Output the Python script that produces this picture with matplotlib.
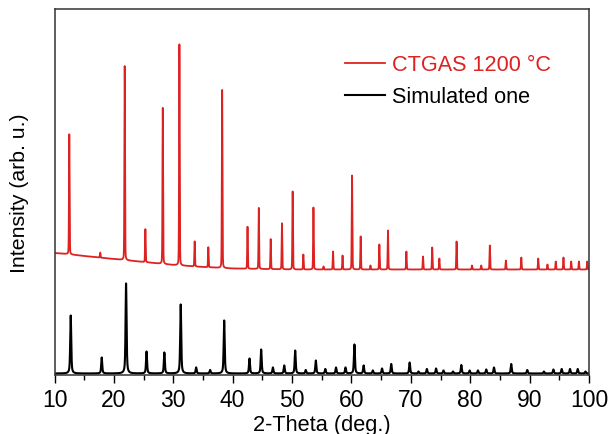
import numpy as np
import matplotlib
matplotlib.use("Agg")
import matplotlib.pyplot as plt
from matplotlib.ticker import MultipleLocator

plt.rcParams["font.family"] = ["Liberation Sans", "DejaVu Sans"]

# peak lists (2-theta in deg., height in arb. units)
red_pos = [12.49, 17.7, 21.82, 25.3, 28.23, 31.03, 33.6, 35.9, 38.23, 42.5,
           44.4, 46.4, 48.3, 50.1, 51.9, 53.6, 55.3, 56.9, 58.5, 60.1,
           61.55, 63.2, 64.7, 66.15, 69.25, 72.05, 73.6, 74.8, 77.7, 80.3,
           81.85, 83.3, 86.0, 88.6, 91.45, 93.0, 94.4, 95.7, 97.0, 98.3, 99.7]
red_height = [120, 5, 194, 33, 156, 221, 25, 20, 178, 42,
              61, 30, 46, 78, 15, 62, 3, 18, 14, 94,
              33, 4, 25, 39, 18, 13, 22, 11, 28, 4,
              4, 24, 9, 12, 11, 5, 8, 12, 8, 8, 8]

# red background level (offset trace)
bg_pos = [10, 12, 15, 20, 25, 30, 35, 40, 50, 100]
bg_level = [122, 121, 119, 116, 113, 110, 108, 106.5, 105.5, 105.5]

sim_pos = [12.73, 17.95, 22.05, 25.5, 28.5, 31.25, 33.85, 36.2, 38.57, 42.83,
           44.8, 46.77, 48.68, 50.53, 52.3, 54.0, 55.6, 57.4, 59.0, 60.5,
           62.05, 63.6, 65.15, 66.7, 69.8, 71.3, 72.7, 74.25, 75.5, 77.1,
           78.5, 79.9, 81.3, 82.7, 84.0, 86.9, 89.6, 92.4, 94.0, 95.4,
           96.8, 98.1, 99.4]
sim_height = [58, 16, 90, 22, 21, 69, 6, 3.5, 53, 15,
              24, 6, 8, 23, 3.5, 13, 4.5, 6, 6, 29,
              8, 3, 5, 9.5, 11, 2, 4.5, 5, 3, 2,
              8.5, 3, 3, 4, 6, 9.5, 3.5, 2, 4, 4.5,
              4.5, 4.5, 2]
sim_base = 1.5


def pattern(x, pos, height, fwhm, eta):
    y = np.zeros_like(x)
    for p, h in zip(pos, height):
        d = (x - p) / (fwhm / 2)
        lor = 1 / (1 + d ** 2)
        gau = np.exp(-np.log(2) * d ** 2)
        y += h * (eta * lor + (1 - eta) * gau)
    return y


tt = np.arange(10, 100.0001, 0.01)
red = np.interp(tt, bg_pos, bg_level) + pattern(tt, red_pos, red_height, 0.12, 0.2)
sim = sim_base + pattern(tt, sim_pos, sim_height, 0.2, 0.6)

fig = plt.figure(figsize=(6.1, 4.35), dpi=100)
ax = fig.add_axes([54.5 / 610, 59 / 435, 534.5 / 610, 366 / 435])

ax.plot(tt, red, color="#dd2222", lw=1.3, label="CTGAS 1200 \u00b0C")
ax.plot(tt, sim, color="black", lw=1.5, label="Simulated one")

ax.set_xlim(10, 100)
ax.set_ylim(0, 366)
ax.xaxis.set_major_locator(MultipleLocator(10))
ax.xaxis.set_minor_locator(MultipleLocator(5))
ax.set_yticks([])
ax.tick_params(axis="x", which="major", direction="out", length=5.5, width=1, labelsize=16.5, pad=3.8)
ax.tick_params(axis="x", which="minor", direction="out", length=3.5, width=1)
for s in ax.spines.values():
    s.set_linewidth(1.1)
    s.set_color("#333333")

ax.set_xlabel("2-Theta (deg.)", fontsize=15.7, labelpad=2.5)
ax.set_ylabel("Intensity (arb. u.)", fontsize=15.3, labelpad=18.5)

leg = ax.legend(loc="upper left", bbox_to_anchor=(0.5435, 0.876), frameon=False,
                fontsize=15.6, handlelength=1.85, handletextpad=0.3, labelspacing=0.5,
                borderpad=0, borderaxespad=0)
leg.get_texts()[0].set_color("#dd2222")

fig.savefig("out.png", dpi=100)
